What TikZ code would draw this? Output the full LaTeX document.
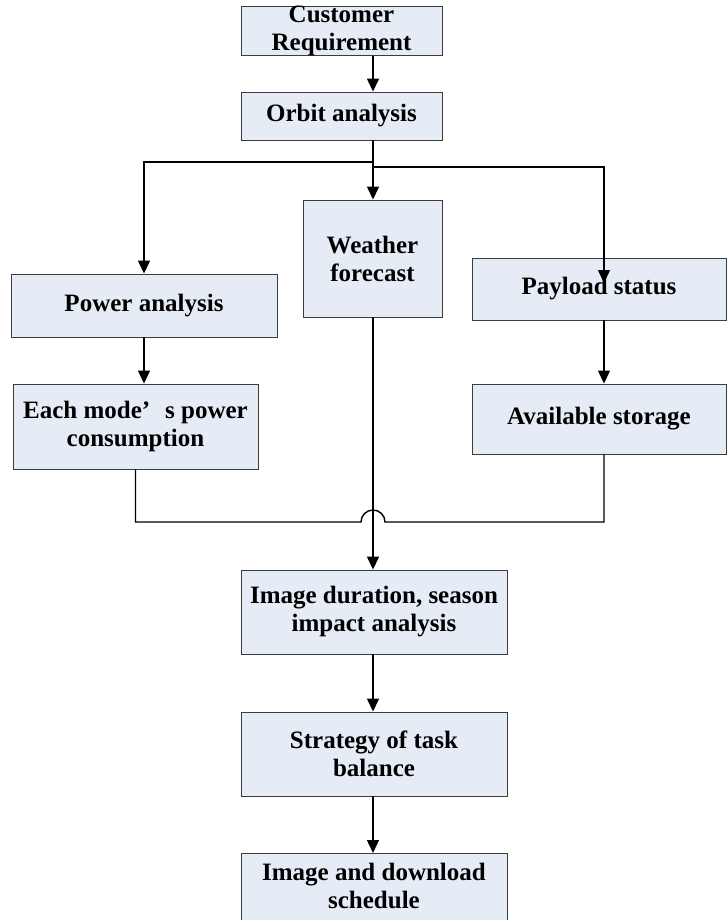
\documentclass[tikz,border=0pt]{standalone}
\usepackage{fontspec}
\setmainfont{Liberation Serif}
\usetikzlibrary{arrows.meta}
\definecolor{boxfill}{RGB}{230,236,246}
\definecolor{boxline}{RGB}{60,60,60}
\tikzset{
  blk/.style={draw=boxline, line width=0.9pt, fill=boxfill, inner sep=0pt, align=center,
    font=\fontsize{25}{28}\selectfont\bfseries},
  conn/.style={line width=1.4pt, black},
  arr/.style={conn, -{Triangle[length=13pt,width=12pt]}}
}
\begin{document}
\begin{tikzpicture}[x=1pt,y=1pt]
\useasboundingbox (0,0) rectangle (727,-920);
\clip (0,0) rectangle (727,-920);
\node[blk, minimum width=201pt, minimum height=48pt] (cr) at (341.5,-31) {Customer\\Requirement};
\node[blk, minimum width=201pt, minimum height=48pt] (orbit) at (341.5,-116) {Orbit analysis};
\node[blk, minimum width=139pt, minimum height=117pt] (weather) at (372.5,-258.5) {Weather\\forecast};
\node[blk, minimum width=266pt, minimum height=63pt] (power) at (144,-305.5) {Power analysis};
\node[blk, minimum width=245pt, minimum height=85pt] (each) at (135.5,-426.5) {Each mode’\hspace{0.6em}s power\\consumption};
\node[blk, minimum width=254pt, minimum height=62pt] (payload) at (599,-289) {Payload status};
\node[blk, minimum width=254pt, minimum height=70pt] (storage) at (599,-419) {Available storage};
\node[blk, minimum width=266pt, minimum height=84pt] (image) at (374,-612) {Image duration, season\\impact analysis};
\node[blk, minimum width=266pt, minimum height=84pt] (strategy) at (374,-754) {Strategy of task\\balance};
\node[blk, minimum width=266pt, minimum height=84pt, anchor=north] (sched) at (374,-853)
  {\raisebox{7pt}[\height][\depth]{\begin{tabular}{@{}c@{}}Image and download\\schedule\end{tabular}}};
\coordinate (mid) at (373,0);
\coordinate (rx) at (604,0);
\coordinate (j1) at (0,-162);
\coordinate (j2) at (0,-167);
\coordinate (ptip) at (604,-283);
\coordinate (hopL) at (361,-522);
\coordinate (hopR) at (385,-522);
\draw[arr] (cr.south -| mid) -- (orbit.north -| mid);
\draw[arr] (orbit.south -| mid) -- (weather.north -| mid);
\draw[arr] (mid |- j1) -| (power.north);
\draw[arr] (mid |- j2) -| (ptip);
\draw[arr] (power.south) -- (each.north -| power.south);
\draw[arr] (payload.south -| rx) -- (storage.north -| rx);
\draw[conn] (each.south) |- (hopL) arc[start angle=180, end angle=0, radius=12pt] -- (hopR) -| (storage.south -| rx);
\draw[arr] (weather.south -| mid) -- (image.north -| mid);
\draw[arr] (image.south -| mid) -- (strategy.north -| mid);
\draw[arr] (strategy.south -| mid) -- (sched.north -| mid);
\end{tikzpicture}
\end{document}
